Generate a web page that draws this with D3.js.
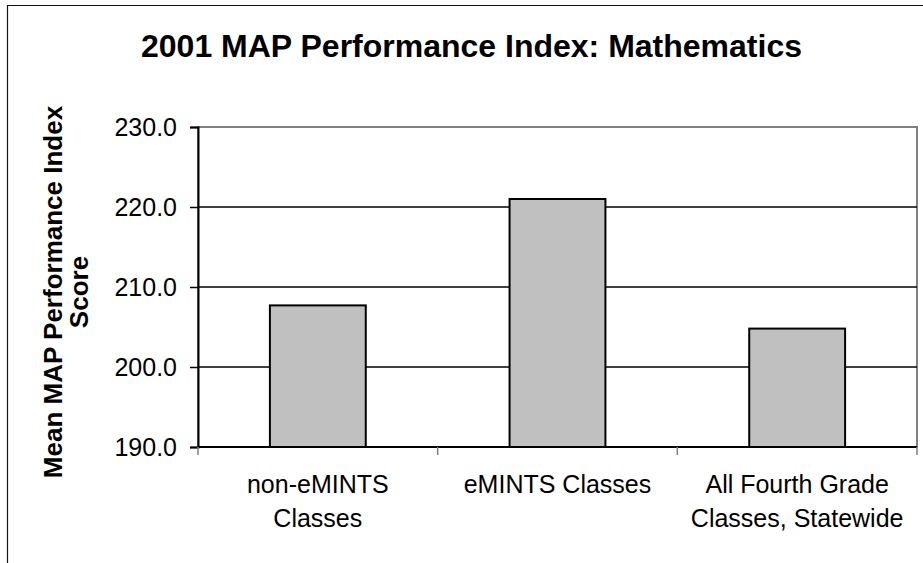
<!DOCTYPE html>
<html>
<head>
<meta charset="utf-8">
<script src="https://cdn.jsdelivr.net/npm/d3@7"></script>
<style>
  body { margin: 0; background: #fff; }
  svg { display: block; font-family: "Liberation Sans", Arial, sans-serif; }
</style>
</head>
<body>
<div id="chart"></div>
<script>
// data
const categories = [["non-eMINTS", "Classes"], ["eMINTS Classes"], ["All Fourth Grade", "Classes, Statewide"]];
const values = [207.7, 221.0, 204.8];
const yTicks = [190, 200, 210, 220, 230];

const width = 923, height = 563;
const margin = { top: 127, right: 6, bottom: 116, left: 198 };

const svg = d3.select("#chart").append("svg")
  .attr("width", width)
  .attr("height", height);

// outer frame (runs off the right and bottom edge)
svg.append("path")
  .attr("d", `M7.5,${height + 5}V5.5H${width + 5}`)
  .attr("fill", "none")
  .attr("stroke", "#111")
  .attr("stroke-width", 1.2);

svg.append("text")
  .attr("x", 471.5)
  .attr("y", 57)
  .attr("text-anchor", "middle")
  .attr("font-size", "32px")
  .attr("font-weight", "bold")
  .text("2001 MAP Performance Index: Mathematics");

const x = d3.scaleBand()
  .domain(d3.range(categories.length))
  .range([margin.left, width - margin.right])
  .padding(0);

const y = d3.scaleLinear()
  .domain([190, 230])
  .range([height - margin.bottom, margin.top]);

// plot area border (grey)
svg.append("rect")
  .attr("x", margin.left)
  .attr("y", margin.top)
  .attr("width", width - margin.right - margin.left)
  .attr("height", height - margin.bottom - margin.top)
  .attr("fill", "none")
  .attr("stroke", "#808080")
  .attr("stroke-width", 2);

// gridlines
svg.selectAll(".grid")
  .data(yTicks.filter(t => t > 190 && t < 230))
  .enter().append("line")
  .attr("x1", margin.left)
  .attr("x2", width - margin.right)
  .attr("y1", d => y(d))
  .attr("y2", d => y(d))
  .attr("stroke", "#000")
  .attr("stroke-width", 1.5);

// bars
const bw = x.bandwidth() * 0.4;
svg.selectAll(".bar")
  .data(values)
  .enter().append("rect")
  .attr("x", (d, i) => x(i) + (x.bandwidth() - bw) / 2)
  .attr("y", d => y(d))
  .attr("width", bw)
  .attr("height", d => y(190) - y(d))
  .attr("fill", "#c0c0c0")
  .attr("stroke", "#000")
  .attr("stroke-width", 2);

// y axis
const yAxis = svg.append("g")
  .attr("transform", `translate(${margin.left},0)`)
  .call(d3.axisLeft(y).tickValues(yTicks).tickSize(8).tickPadding(13).tickFormat(d3.format(".1f")));
yAxis.select(".domain").attr("stroke", "#000").attr("stroke-width", 2);
yAxis.selectAll(".tick line").attr("stroke", "#000").attr("stroke-width", 1.5);
yAxis.selectAll(".tick text")
  .attr("font-size", "25px")
  .attr("font-family", "Liberation Sans, Arial, sans-serif")
  .attr("fill", "#000")
  .attr("dy", "0.34em");

// x axis
const xAxis = svg.append("g")
  .attr("transform", `translate(0,${height - margin.bottom})`);
xAxis.append("line")
  .attr("x1", margin.left)
  .attr("x2", width - margin.right)
  .attr("stroke", "#000")
  .attr("stroke-width", 2);
xAxis.selectAll(".xtick")
  .data(d3.range(categories.length + 1))
  .enter().append("line")
  .attr("x1", i => i < categories.length ? x(i) : x(i - 1) + x.bandwidth())
  .attr("x2", i => i < categories.length ? x(i) : x(i - 1) + x.bandwidth())
  .attr("y1", 0)
  .attr("y2", 8)
  .attr("stroke", "#808080")
  .attr("stroke-width", 1.5);

const labels = xAxis.selectAll(".xlabel")
  .data(categories)
  .enter().append("text")
  .attr("text-anchor", "middle")
  .attr("font-size", "25px")
  .attr("fill", "#000");
labels.selectAll("tspan")
  .data((d, i) => d.map(t => ({ t, i })))
  .enter().append("tspan")
  .attr("x", d => x(d.i) + x.bandwidth() / 2)
  .attr("y", (d, j) => 46 + j * 34)
  .text(d => d.t);

// y axis title
const yTitle = svg.append("text")
  .attr("transform", "translate(0,292) rotate(-90)")
  .attr("text-anchor", "middle")
  .attr("font-size", "26px")
  .attr("font-weight", "bold");
yTitle.append("tspan").attr("x", 0).attr("y", 62).text("Mean MAP Performance Index");
yTitle.append("tspan").attr("x", 0).attr("y", 88).text("Score");
</script>
</body>
</html>
